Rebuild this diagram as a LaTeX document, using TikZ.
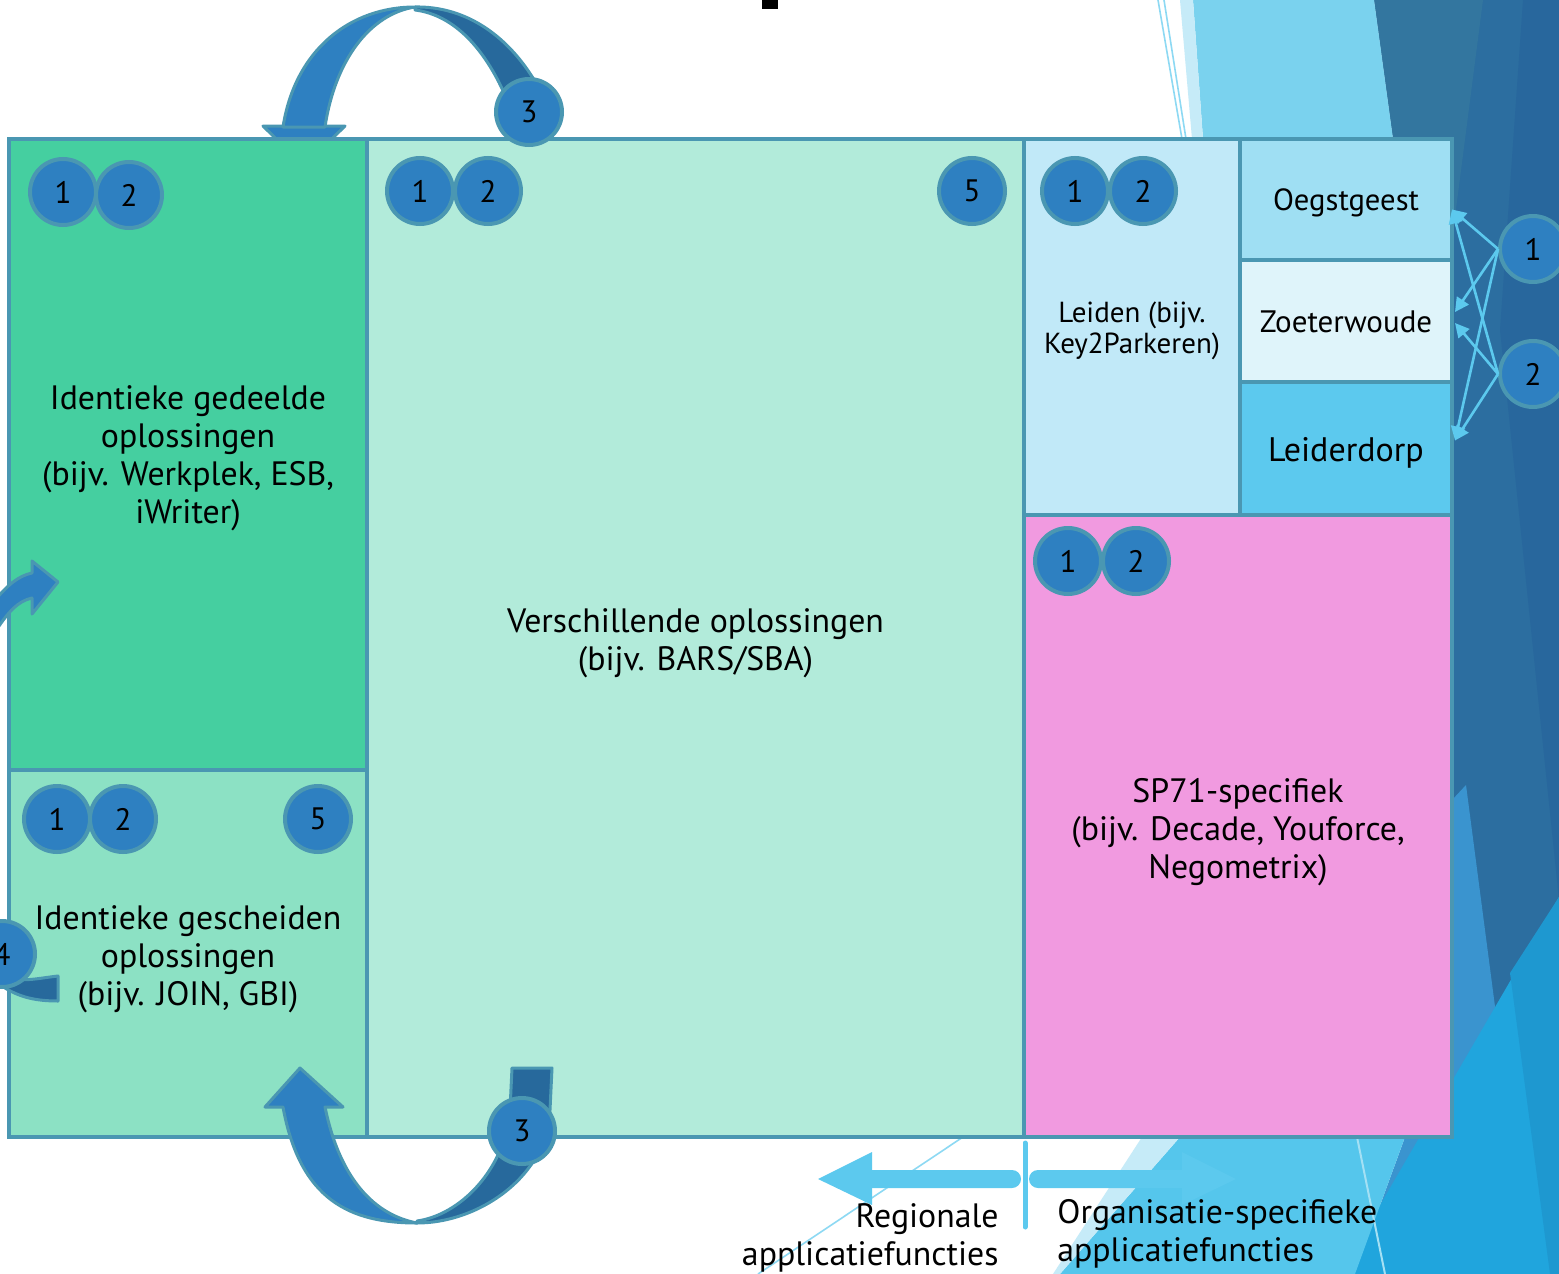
\documentclass[tikz,border=0pt]{standalone}
\usepackage{fontspec}
\setmainfont{PT Sans}
\usetikzlibrary{arrows.meta,calc}
\definecolor{bord}{HTML}{4A97B2}
\definecolor{cfill}{HTML}{2E80C1}
\definecolor{cdark}{HTML}{27699C}
\definecolor{green1}{HTML}{45CFA0}
\definecolor{green2}{HTML}{8CE1C4}
\definecolor{mint}{HTML}{B2EBDA}
\definecolor{leidc}{HTML}{C1E9F8}
\definecolor{oegc}{HTML}{9FDFF3}
\definecolor{zoec}{HTML}{DFF4FA}
\definecolor{ldpc}{HTML}{5CC9EE}
\definecolor{pink}{HTML}{F19AE0}
\definecolor{abl}{HTML}{5CC9EE}
\definecolor{bgl}{HTML}{7AD2EE}
\definecolor{bgpale}{HTML}{C6EBF8}
\definecolor{bgd1}{HTML}{33769F}
\definecolor{bgd2}{HTML}{2C6EA0}
\definecolor{bgd3}{HTML}{28679D}
\definecolor{bgmed}{HTML}{3A94CF}
\definecolor{bgbr}{HTML}{20A5DD}
\definecolor{bgbr2}{HTML}{1E98D0}
\definecolor{bglb}{HTML}{55C6EC}
\tikzset{
  box/.style={draw=bord, line width=2pt, inner sep=0pt, outer sep=0pt},
  num/.style={circle, draw=bord, fill=cfill, line width=2pt, minimum size=33pt, inner sep=0pt,
    font=\fontsize{15.5pt}{17pt}\selectfont},
  ribbon/.style={draw=bord, line width=1.5pt, line join=round},
  small/.style={abl, line width=1.3pt, -{Triangle[length=7pt,width=7pt]}},
  lbl/.style={align=center, inner sep=0pt, font=\fontsize{16.9pt}{19pt}\selectfont},
}
\begin{document}
\begin{tikzpicture}[x=0.5pt,y=-0.5pt]
\useasboundingbox (0,0) rectangle (1559,1274);
\fill[white] (0,0) rectangle (1559,1274);
% ---------- background facets ----------
\fill[bgd2] (1374,0) -- (1559,0) -- (1559,1274) -- (1452,1274) -- (1452,139) -- (1393,139) -- cycle;
\fill[bgd1] (1374,0) -- (1483,0) -- (1452,240) -- (1452,139) -- (1393,139) -- cycle;
\fill[bgd3] (1523,0) -- (1559,0) -- (1559,900) -- (1500,330) -- cycle;
\fill[bgmed] (1452,800) -- (1466,785) -- (1530,1274) -- (1355,1274) -- (1405,1137) -- (1452,1137) -- cycle;
\fill[bgbr] (1559,897) -- (1559,1274) -- (1340,1274) -- cycle;
\fill[bgbr2] (1510,973) -- (1559,897) -- (1559,1274) -- (1550,1274) -- cycle;
\fill[bglb] (1180,1137) -- (1405,1137) -- (1355,1274) -- (1060,1274) -- cycle;
\fill[bgpale] (1142,1137) -- (1180,1137) -- (1060,1274) -- (1053,1274) -- cycle;
\draw[bgpale!70!bglb, line width=1pt] (1357,1137) -- (1385,1274);
\fill[bgl] (1193,0) -- (1374,0) -- (1393,139) -- (1203,139) -- cycle;
\fill[bgpale] (1180,0) -- (1193,0) -- (1203,139) -- (1192,139) -- cycle;
\draw[abl!70, line width=0.8pt] (1158,0) -- (1182,139);
\draw[abl!70, line width=0.8pt] (1164,0) -- (1186,139);
\draw[abl!70, line width=0.8pt] (758,1274) -- (963,1137);
% title fragment
\fill[black] (762,0) rectangle (778,9);
% ---------- top U-turn arrow (behind boxes) ----------
\filldraw[ribbon, fill=cfill] (263,126) -- (345,126) -- (304,166) -- cycle;
\filldraw[ribbon, fill=cfill] (283,127) .. controls (295,50) and (350,7) .. (415,7)
  .. controls (370,14) and (335,60) .. (325,127) -- cycle;
\filldraw[ribbon, fill=cdark] (415,7) .. controls (465,6) and (510,35) .. (540,90)
  -- (505,95) .. controls (485,50) and (455,15) .. (415,10) -- cycle;
% ---------- boxes ----------
\node[box, fill=green1, minimum width=179pt, minimum height=315.5pt] (ged) at (188,454.5) {};
\node[box, fill=green2, minimum width=179pt, minimum height=183.5pt] (sch) at (188,953.5) {};
\node[box, fill=mint, minimum width=328.5pt, minimum height=499pt] (ver) at (695.5,638) {};
\node[box, fill=leidc, minimum width=108pt, minimum height=188pt] (lei) at (1132,327) {};
\node[box, fill=oegc, minimum width=106pt, minimum height=60.5pt] (oeg) at (1346,199.5) {};
\node[box, fill=zoec, minimum width=106pt, minimum height=61pt] (zoe) at (1346,321) {};
\node[box, fill=ldpc, minimum width=106pt, minimum height=66.5pt] (ldp) at (1346,448.5) {};
\node[box, fill=pink, minimum width=214pt, minimum height=311pt] (sp) at (1238,826) {};
% ---------- box texts ----------
\node[lbl] (gedT) at ($(ged.center)+(0,4)$) {Identieke gedeelde\\oplossingen\\(bijv. Werkplek, ESB,\\iWriter)};
\node[lbl] (schT) at ($(sch.center)+(0,5.5)$) {Identieke gescheiden\\oplossingen\\(bijv. JOIN, GBI)};
\node[lbl] (verT) at ($(ver.center)+(0,5)$) {Verschillende oplossingen\\(bijv. BARS/SBA)};
\node[lbl, font=\fontsize{14.5pt}{15.5pt}\selectfont] (leiT) at ($(lei.center)+(0,4)$) {Leiden (bijv.\\Key2Parkeren)};
\node[lbl, font=\fontsize{15.3pt}{17pt}\selectfont] (oegT) at ($(oeg.center)+(0,3)$) {Oegstgeest};
\node[lbl, font=\fontsize{15.5pt}{17pt}\selectfont] (zoeT) at ($(zoe.center)+(0,1)$) {Zoeterwoude};
\node[lbl, font=\fontsize{17pt}{19pt}\selectfont] (ldpT) at ($(ldp.center)+(0,4)$) {Leiderdorp};
\node[lbl] (spT) at ($(sp.center)+(0,6)$) {SP71-specifiek\\(bijv. Decade, Youforce,\\Negometrix)};
% ---------- bottom U-turn arrow (in front) ----------
\filldraw[ribbon, fill=cdark] (417,1223) .. controls (480,1223) and (548,1175) .. (550,1110)
  -- (552,1068) -- (512,1068) -- (510,1110) .. controls (505,1170) and (460,1215) .. (417,1221) -- cycle;
\filldraw[ribbon, fill=cfill] (283,1107) .. controls (300,1200) and (350,1223) .. (417,1223)
  .. controls (375,1215) and (340,1180) .. (325,1107) -- (343,1107) -- (300,1068) -- (265,1107) -- cycle;
% ---------- left arrows ----------
\filldraw[ribbon, fill=cfill] (-5,600) .. controls (8,585) and (18,576) .. (32,573) -- (32,561)
  -- (58,582) -- (32,614) -- (32,598) .. controls (18,601) and (8,612) .. (-5,632) -- cycle;
\filldraw[ribbon, fill=cdark] (8,978) .. controls (25,982) and (40,978) .. (58,976) -- (58,1001)
  .. controls (35,1001) and (20,997) .. (5,988) -- cycle;
% ---------- numbered circles ----------
\node[num] (g1) at (63,192) {1};
\node[num] (g2) at (129,195) {2};
\node[num] (v1) at (420,191) {1};
\node[num] (v2) at (488,191) {2};
\node[num] (v5) at (972,191) {5};
\node[num] (l1) at (1075,191) {1};
\node[num] (l2) at (1143,191) {2};
\node[num] (p1) at (1068,561) {1};
\node[num] (p2) at (1136,561) {2};
\node[num] (s1) at (57,819) {1};
\node[num] (s2) at (123,819) {2};
\node[num] (s5) at (318,819) {5};
\node[num] (c4) at (2,954) {4};
\node[num] (t3) at (529,112) {3};
\node[num] (b3) at (522,1131) {3};
\node[num] (r1) at (1533,249) {1};
\node[num] (r2) at (1533,374) {2};
% ---------- small connectors ----------
\draw[small] (r1.west) -- ($(oeg.east)+(0,10)$);
\draw[small] (r1.west) -- ($(zoe.east)+(3,-9)$);
\draw[small] (r1.west) -- ($(ldp.east)+(3,-8)$);
\draw[small] (r2.west) -- ($(oeg.east)+(0,10)$);
\draw[small] (r2.west) -- ($(zoe.east)+(3,2)$);
\draw[small] (r2.west) -- ($(ldp.east)+(3,-8)$);
% ---------- bottom double arrow ----------
\coordinate (mid) at (1025,1179);
\fill[abl, rounded corners=4.5pt] (860,1170) rectangle (1021,1188);
\fill[abl] (872,1152) -- (818,1179) -- (872,1205) -- cycle;
\fill[abl, rounded corners=4.5pt] (1029,1170) rectangle (1192,1188);
\fill[abl] (1182,1152) -- (1236,1179) -- (1182,1205) -- cycle;
\draw[abl, line width=2.5pt, line cap=round] ($(mid)+(0,-36)$) -- ($(mid)+(0,48)$);
\node[lbl, align=right, anchor=east] (reg) at (999,1237.5) {Regionale\\applicatiefuncties};
\node[lbl, align=left, anchor=west] (org) at (1057,1234) {Organisatie-specifieke\\applicatiefuncties};
\end{tikzpicture}
\end{document}
